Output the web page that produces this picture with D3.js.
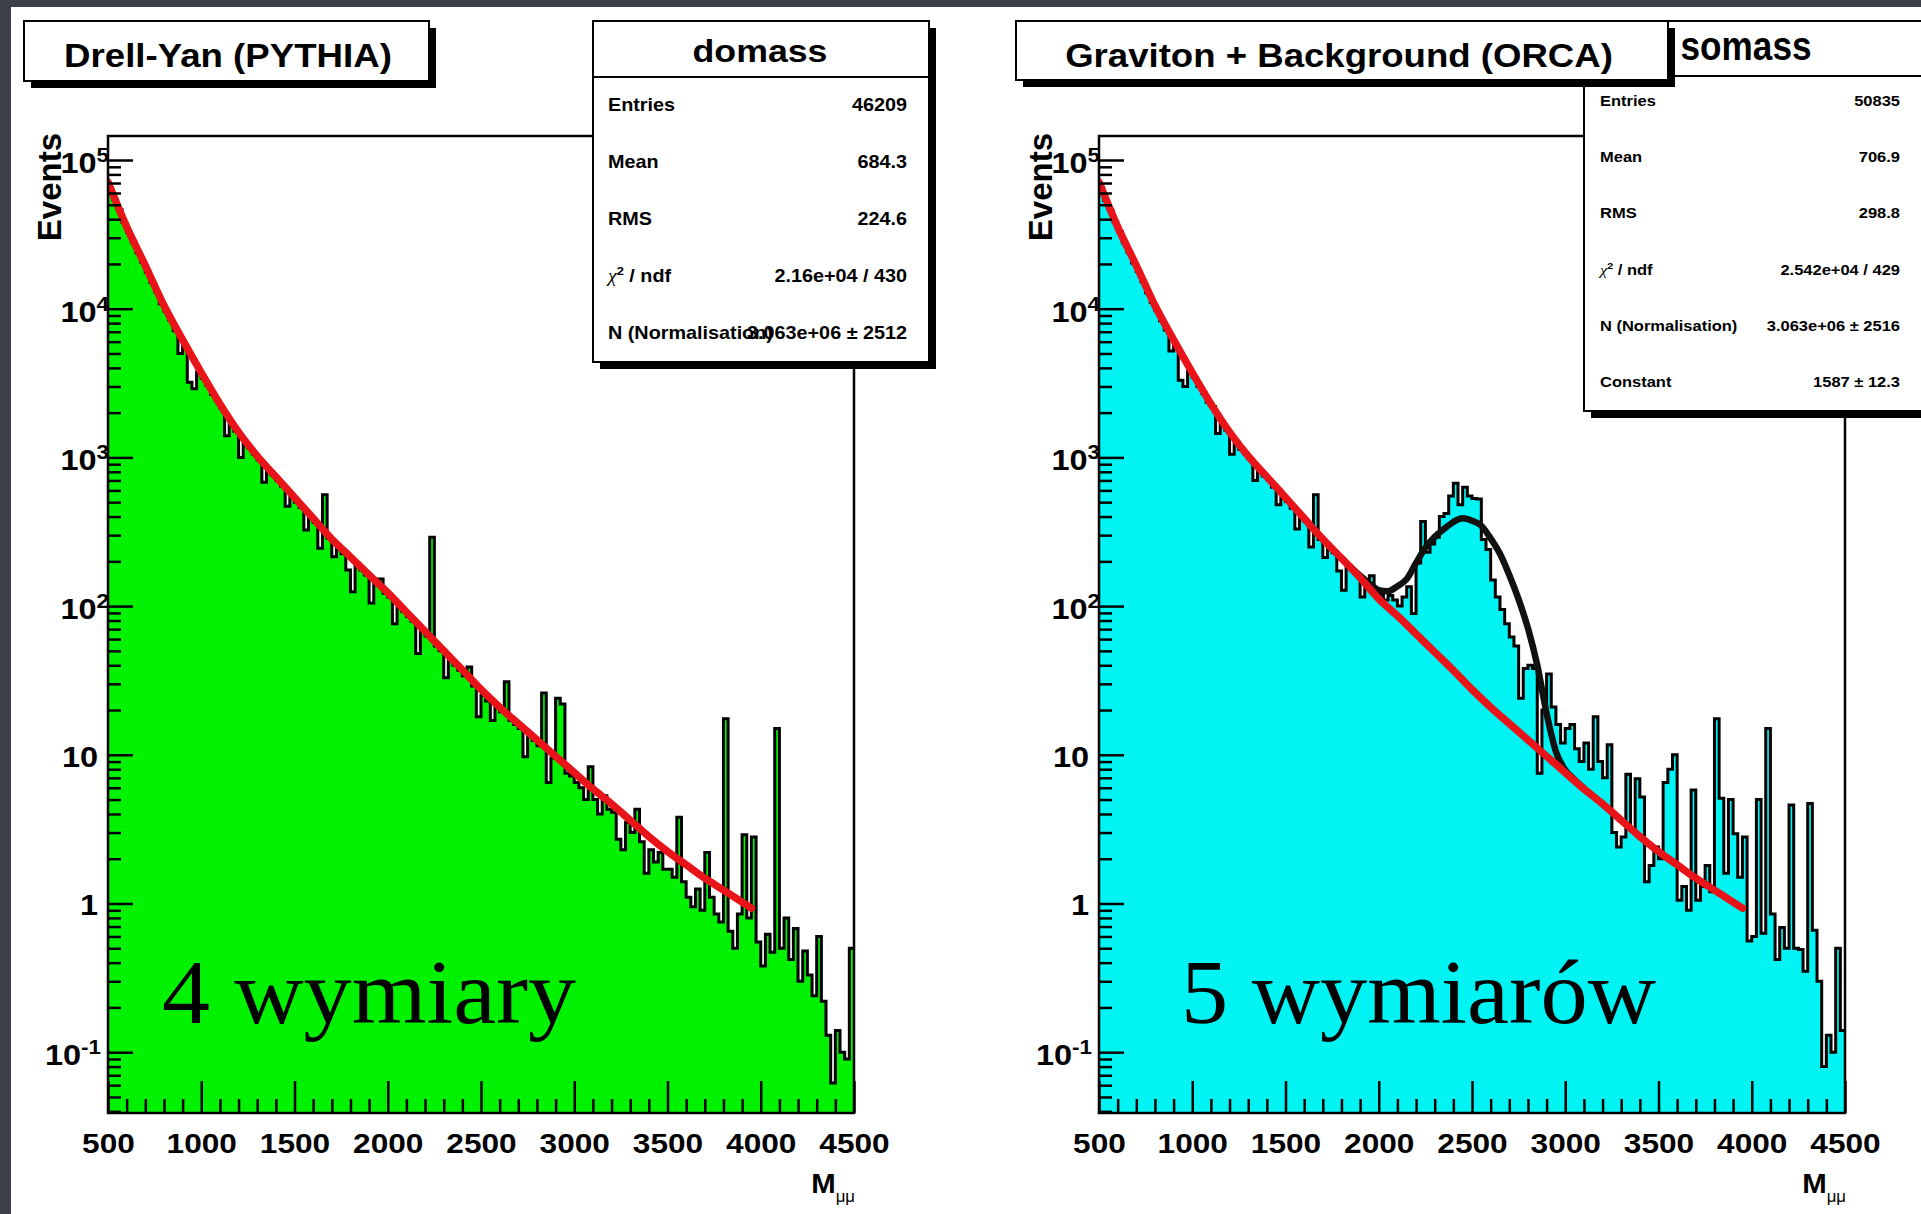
<!DOCTYPE html>
<html>
<head>
<meta charset="utf-8">
<script src="https://cdn.jsdelivr.net/npm/d3@7"></script>
<style>
  body { margin: 0; background: #3c3f47; }
  svg { display: block; }
  text { font-family: "Liberation Sans", Arial, Helvetica, sans-serif; font-weight: bold; fill: #000; }
</style>
</head>
<body>
<div id="chart"></div>
<script>
// histogram binning (GeV)
var massMin = 500, massMax = 4500, binWidth = 25;

// Drell-Yan (PYTHIA), events per 25 GeV bin from 500 GeV
var dyCounts = [
  64000, 54000, 46500, 38000,   32500, 28000, 23800, 20500,
  17600, 15000, 13000, 10800,   9600, 8400, 7100, 5000,
  5600, 3200, 2900, 3750,       3400, 3050, 2650, 2400,
  2150, 1400, 1700, 1500,       1000, 1250, 1150, 1050,
  960, 680, 800, 760,           700, 640, 470, 545,
  500, 460, 325, 395,           365, 245, 560, 285,
  215, 246, 225, 175,           125, 188, 175, 162,
  105, 142, 152, 122,           115, 76, 98, 92,
  85, 79, 48, 68,               63, 290, 54, 50,
  33, 44, 40, 37,               34, 39, 29, 18,
  25, 23, 17, 21,               19.5, 31, 17, 16,
  15, 9.7, 13.5, 12.5,          11.5, 26, 6.5, 9.5,
  24, 22, 7.5, 7.2,             6.5, 6.0, 5.0, 8.3,
  5.0, 4.0, 5.3, 4.3,           4.1, 2.7, 2.3, 3.5,
  3.0, 4.3, 2.6, 1.6,           2.3, 1.9, 2.2, 1.7,
  1.7, 1.5, 3.8, 1.4,           1.1, 0.95, 1.25, 0.9,
  2.2, 1.1, 0.85, 0.75,         17.5, 0.65, 0.5, 0.85,
  2.9, 0.8, 2.8, 0.55,          0.38, 0.62, 0.47, 15,
  0.5, 0.8, 0.42, 0.68,         0.3, 0.48, 0.33, 0.24,
  0.6, 0.22, 0.13, 0.062,       0.14, 0.1, 0.09, 0.5
];

// Graviton + Background (ORCA)
var gravCounts = [
  65000, 53500, 46000, 38500,   33000, 27800, 24000, 20300,
  17800, 15200, 12800, 11000,   9700, 8300, 7200, 5200,
  5700, 3300, 3000, 3800,       3450, 3000, 2700, 2350,
  2200, 1450, 1680, 1520,       1050, 1270, 1130, 1060,
  970, 700, 810, 750,           710, 630, 480, 540,
  505, 455, 330, 390,           370, 250, 560, 280,
  212, 245, 228, 172,           128, 188, 175, 162,
  115, 145, 160, 128,           120, 110, 118, 110,
  100, 115, 135, 89,            195, 370, 230, 262,
  290, 400, 420, 550,           670, 480, 630, 550,
  530, 525, 280, 240,           150, 115, 95, 76,
  62, 54, 24, 38,               40, 38, 7.5, 20,
  35, 21, 16, 12,               15, 16, 11, 9,
  12, 8, 18, 9,                 7, 11.7, 3.0, 2.4,
  2.8, 7.4, 3.2, 6.9,           5.2, 1.4, 1.8, 2.4,
  2.0, 6.5, 8.0, 10,            1.05, 1.3, 0.9, 5.8,
  1.05, 1.3, 1.8, 1.2,          17.5, 5.1, 1.6, 5.0,
  2.95, 1.5, 2.8, 0.56,         0.6, 5.0, 0.63, 15,
  0.85, 0.42, 0.69, 0.5,        4.6, 0.5, 0.49, 0.35,
  4.7, 0.66, 0.3, 0.08,         0.13, 0.1, 0.5, 0.14
];

// background fit (red)
var fitMass = [500, 600, 700, 800, 900, 1000, 1100, 1200, 1300, 1400, 1500, 1600, 1700, 1800,
  1900, 2000, 2100, 2200, 2300, 2400, 2500, 2600, 2700, 2800, 2900, 3000, 3100, 3200, 3300,
  3400, 3500, 3600, 3700, 3800, 3900, 3950];
var dyFit = [71000, 35500, 19500, 10500, 6170, 3720, 2290, 1480, 1020, 741, 537, 389, 282, 214,
  162, 123, 91.2, 67.6, 50.1, 37.2, 27.5, 20.9, 16.2, 12.6, 9.77, 7.59, 5.89, 4.68, 3.63,
  2.82, 2.24, 1.82, 1.48, 1.23, 1.02, 0.93];
var gravFit = [71000, 35500, 19500, 10500, 6170, 3720, 2290, 1480, 1020, 741, 537, 389, 282, 210,
  155, 112, 86, 65, 49, 37, 27.5, 20.9, 16.2, 12.6, 9.77, 7.59, 5.89, 4.68, 3.63,
  2.82, 2.24, 1.82, 1.48, 1.23, 1.02, 0.93];

// signal + background fit (black)
var peakMass = [1850, 1900, 1950, 2000, 2050, 2100, 2150, 2200, 2250, 2300, 2350, 2400, 2450,
  2500, 2550, 2600, 2650, 2700, 2750, 2800, 2850, 2900, 2950, 3000, 3050, 3100];
var peakFit = [182, 160, 142, 128, 126, 136, 152, 195, 246, 292, 330, 368, 389,
  375, 347, 285, 225, 162, 111, 71, 40, 19, 10.5, 7.9, 6.8, 5.95];

var massTicks = [500, 1000, 1500, 2000, 2500, 3000, 3500, 4000, 4500];
var decadeTicks = [0.1, 1, 10, 100, 1000, 10000, 100000];
var decadeLabels = [["10", "-1"], ["1", ""], ["10", ""], ["10", "2"], ["10", "3"], ["10", "4"], ["10", "5"]];

var dyStats = [["Entries", "46209"], ["Mean", "684.3"], ["RMS", "224.6"],
  ["chi2", "2.16e+04 / 430"], ["N (Normalisation)", "3.063e+06 \u00b1 2512"]];
var gravStats = [["Entries", "50835"], ["Mean", "706.9"], ["RMS", "298.8"],
  ["chi2", "2.542e+04 / 429"], ["N (Normalisation)", "3.063e+06 \u00b1 2516"], ["Constant", "1587 \u00b1 12.3"]];

var yMin = 0.039, yMax = 1.45e5;
var W = 1921, H = 1214;
var frameTop = 136, frameBottom = 1113, frameWidth = 746;

var svg = d3.select("#chart").append("svg").attr("width", W).attr("height", H);
svg.append("rect").attr("width", W).attr("height", H).attr("fill", "#3c3f47");
svg.append("rect").attr("x", 11).attr("y", 7).attr("width", W - 11).attr("height", H - 7).attr("fill", "#fff");

// text squeezed / stretched horizontally like the scanned ROOT canvas
function rootText(g, x, y, str, size, anchor, k) {
  return g.append("text")
    .attr("transform", "translate(" + x + "," + y + ") scale(" + k + ",1)")
    .attr("text-anchor", anchor)
    .attr("font-size", size)
    .text(str);
}
function fitText(g, x, y, str, size, anchor, width) {
  var t = rootText(g, x, y, str, size, anchor, 1);
  var len = t.node().getComputedTextLength();
  t.attr("transform", "translate(" + x + "," + y + ") scale(" + (width / len) + ",1)");
  return t;
}

function shadowBox(g, x, y, w, h) {
  g.append("rect").attr("x", x + 7).attr("y", y + 7).attr("width", w).attr("height", h).attr("fill", "#000");
  g.append("rect").attr("x", x).attr("y", y).attr("width", w).attr("height", h)
    .attr("fill", "#fff").attr("stroke", "#000").attr("stroke-width", 2);
}

function statsBox(g, s) {
  shadowBox(g, s.x, s.y, s.w, s.h);
  g.append("line").attr("x1", s.x).attr("x2", s.x + s.w).attr("y1", s.headerY).attr("y2", s.headerY)
    .attr("stroke", "#000").attr("stroke-width", 2);
  fitText(g, s.nameX, s.nameY, s.name, s.nameSize, "middle", s.nameWidth);
  s.rows.forEach(function(r, i) {
    var by = s.rowY + i * s.rowStep;
    if (r[0] === "chi2") {
      var t = rootText(g, s.labelX, by, "", s.rowSize, "start", 1.1);
      t.append("tspan").style("font-family", "'Liberation Serif', serif").style("font-style", "italic")
        .style("font-weight", "normal").text("\u03c7");
      t.append("tspan").attr("dy", -s.rowSize * 0.4).attr("font-size", s.rowSize * 0.65).text("2");
      t.append("tspan").attr("dy", s.rowSize * 0.4).text(" / ndf");
    } else {
      rootText(g, s.labelX, by, r[0], s.rowSize, "start", 1.1);
    }
    rootText(g, s.valueX, by, r[1], s.rowSize, "end", 1.1);
  });
}

function drawPanel(p) {
  var g = svg.append("g");
  var x = d3.scaleLinear().domain([massMin, massMax]).range([p.left, p.left + frameWidth]);
  var y = d3.scaleLog().domain([yMin, yMax]).range([frameBottom, frameTop]).clamp(true);

  g.append("clipPath").attr("id", "clip" + p.id).append("rect")
    .attr("x", p.left).attr("y", frameTop).attr("width", frameWidth).attr("height", frameBottom - frameTop);
  var plot = g.append("g").attr("clip-path", "url(#clip" + p.id + ")");

  var bins = p.counts.map(function(c, i) { return [massMin + i * binWidth, c]; });
  bins.push([massMax, p.counts[p.counts.length - 1]]);

  plot.append("path").datum(bins).attr("fill", p.fill)
    .attr("d", d3.area().curve(d3.curveStepAfter)
      .x(function(d) { return x(d[0]); })
      .y0(y(yMin))
      .y1(function(d) { return y(d[1]); }));
  plot.append("path").datum(bins).attr("fill", "none").attr("stroke", "#000").attr("stroke-width", 3)
    .attr("d", d3.line().curve(d3.curveStepAfter)
      .x(function(d) { return x(d[0]); })
      .y(function(d) { return y(d[1]); }));

  var fitLine = d3.line().curve(d3.curveMonotoneX)
    .x(function(d) { return x(d[0]); })
    .y(function(d) { return y(d[1]); });
  if (p.peak) {
    plot.append("path").datum(peakMass.map(function(m, i) { return [m, p.peak[i]]; }))
      .attr("fill", "none").attr("stroke", "#111").attr("stroke-width", 6.5)
      .attr("stroke-linecap", "round").attr("d", fitLine);
  }
  plot.append("path").datum(fitMass.map(function(m, i) { return [m, p.fit[i]]; }))
    .attr("fill", "none").attr("stroke", "#e8141a").attr("stroke-width", 7.5)
    .attr("stroke-linecap", "round").attr("d", fitLine);

  // x axis: ticks point into the frame
  var ax = g.append("g").attr("transform", "translate(0," + frameBottom + ")")
    .call(d3.axisBottom(x).tickValues(d3.range(600, 4500, 100).filter(function(v) { return v % 500; }))
      .tickSizeInner(-14).tickSizeOuter(0).tickFormat(""));
  ax.select(".domain").remove();
  ax.selectAll("line").attr("stroke-width", 2.5);

  var axM = g.append("g").attr("transform", "translate(0," + frameBottom + ")")
    .call(d3.axisBottom(x).tickValues(massTicks).tickSizeInner(-32).tickSizeOuter(0)
      .tickPadding(20).tickFormat(d3.format("d")));
  axM.attr("font-size", 28).attr("font-family", null);
  axM.select(".domain").remove();
  axM.selectAll("line").attr("stroke-width", 2.5);
  axM.selectAll("text").attr("fill", "#000").attr("transform", "scale(1.13,1)");

  // y axis (log)
  var minorY = [];
  d3.range(-2, 5).forEach(function(e) {
    d3.range(2, 10).forEach(function(m) {
      var v = m * Math.pow(10, e);
      if (v > yMin && v < yMax) minorY.push(v);
    });
  });
  var ay = g.append("g").attr("transform", "translate(" + p.left + ",0)")
    .call(d3.axisLeft(y).tickValues(minorY).tickSizeInner(-13).tickSizeOuter(0).tickFormat(""));
  ay.select(".domain").remove();
  ay.selectAll("line").attr("stroke-width", 2.5);
  var ayM = g.append("g").attr("transform", "translate(" + p.left + ",0)")
    .call(d3.axisLeft(y).tickValues(decadeTicks).tickSizeInner(-25).tickSizeOuter(0).tickFormat(""));
  ayM.select(".domain").remove();
  ayM.selectAll("line").attr("stroke-width", 2.5);

  decadeTicks.forEach(function(v, i) {
    var lab = decadeLabels[i], ty = y(v);
    if (!lab[1]) {
      rootText(g, p.left - 10, ty + 12, lab[0], 29, "end", 1.12);
    } else {
      var t = rootText(g, p.left + (lab[1][0] === "-" ? -7 : 1), ty + 13, "", 29, "end", 1.12);
      t.append("tspan").text(lab[0]);
      t.append("tspan").attr("dy", -11).attr("font-size", 20).text(lab[1]);
    }
  });

  g.append("text").attr("transform", "translate(" + (p.left - 47) + ",133) rotate(-90)")
    .attr("text-anchor", "end").attr("font-size", 33).text("Events");

  var mt = rootText(g, p.left + frameWidth + 1, 1193, "", 28, "end", 1.05);
  mt.append("tspan").text("M");
  mt.append("tspan").attr("dy", 9).attr("font-size", 16).style("font-weight", "normal").text("\u03bc\u03bc");

  g.append("rect").attr("x", p.left).attr("y", frameTop).attr("width", frameWidth)
    .attr("height", frameBottom - frameTop).attr("fill", "none").attr("stroke", "#000").attr("stroke-width", 2.5);

  // big label
  g.append("text").attr("x", p.bigX).attr("y", 1023)
    .style("font-family", "'Liberation Serif', 'Times New Roman', serif").style("font-weight", "normal")
    .attr("font-size", 90)
    .attr("textLength", p.bigWidth).attr("lengthAdjust", "spacingAndGlyphs")
    .text(p.big);

  statsBox(g, p.stats);
  shadowBox(g, p.titleBox[0], p.titleBox[1], p.titleBox[2], p.titleBox[3]);
  fitText(g, p.titleX, 67, p.title, 33, "middle", p.titleWidth);
}

drawPanel({
  id: "dy", left: 108, counts: dyCounts, fit: dyFit, peak: null, fill: "#00f200",
  title: "Drell-Yan (PYTHIA)", titleBox: [24, 21, 405, 60], titleX: 228, titleWidth: 328,
  big: "4 wymiary", bigX: 162, bigWidth: 414,
  stats: { x: 593, y: 21, w: 336, h: 341, headerY: 77, name: "domass", nameX: 760, nameY: 62,
    nameSize: 31, nameWidth: 135, rows: dyStats, rowSize: 18, rowY: 111, rowStep: 57,
    labelX: 608, valueX: 907 }
});
drawPanel({
  id: "grav", left: 1099, counts: gravCounts, fit: gravFit, peak: peakFit, fill: "#00f4f4",
  title: "Graviton + Background (ORCA)", titleBox: [1016, 21, 652, 59], titleX: 1339, titleWidth: 548,
  big: "5 wymiar\u00f3w", bigX: 1181, bigWidth: 475,
  stats: { x: 1584, y: 21, w: 360, h: 390, headerY: 76, name: "somass", nameX: 1746, nameY: 60,
    nameSize: 40, nameWidth: 131, rows: gravStats, rowSize: 15, rowY: 106, rowStep: 56.2,
    labelX: 1600, valueX: 1900 }
});
</script>
</body>
</html>
